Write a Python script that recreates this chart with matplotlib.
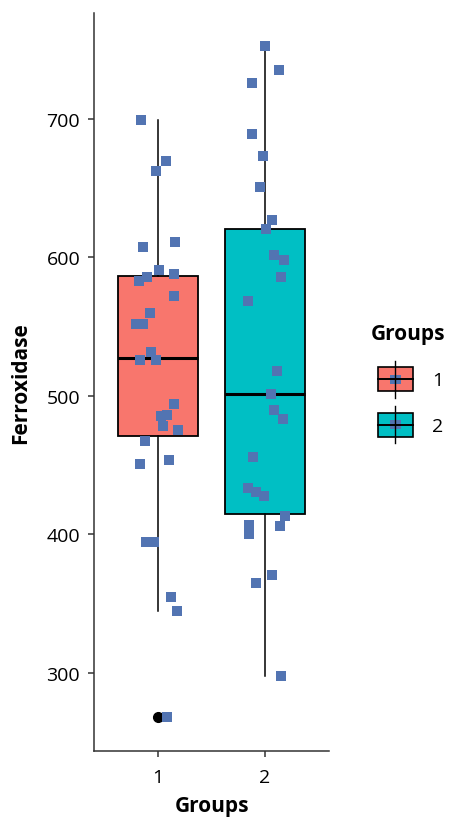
import numpy as np
import matplotlib.pyplot as plt
from matplotlib.patches import Rectangle

plt.rcParams['font.family'] = ['Open Sans', 'DejaVu Sans']

groups = ['1', '2']
fill_colors = ['#F8766D', '#00BFC4']
point_color = '#5274B2'

# boxplot summaries per group
box_q1 = [471.0, 415.0]
box_med = [527.0, 501.0]
box_q3 = [586.5, 620.5]
whisk_lo = [344.6, 297.7]
whisk_hi = [699.3, 752.0]
outliers = [[268.0], []]

# jittered observations (value, horizontal offset)
g1_val = [699.3, 669.7, 662.5, 610.6, 607.7, 591.0, 588.0, 586.0, 583.0, 571.7,
          560.0, 552.0, 552.0, 531.5, 525.5, 525.8, 494.1, 485.6, 486.4, 478.0,
          475.1, 467.4, 450.6, 453.6, 394.3, 394.3, 354.6, 344.6, 268.0]
g1_dx = [-0.16, 0.07, -0.02, 0.16, -0.14, 0.01, 0.15, -0.10, -0.18, 0.15,
         -0.08, -0.21, -0.14, -0.07, -0.17, -0.02, 0.15, 0.03, 0.08, 0.05,
         0.19, -0.12, -0.17, 0.10, -0.11, -0.04, 0.12, 0.18, 0.08]
g2_val = [752.0, 734.8, 725.5, 688.7, 672.8, 650.5, 627.0, 620.0, 601.3, 597.8,
          586.0, 568.3, 517.6, 501.0, 490.0, 483.0, 455.8, 433.3, 430.6, 427.7,
          413.4, 406.0, 406.5, 400.0, 370.5, 365.0, 297.7]
g2_dx = [0.00, 0.13, -0.12, -0.12, -0.02, -0.05, 0.07, 0.01, 0.09, 0.18,
         0.15, -0.16, 0.11, 0.06, 0.09, 0.17, -0.11, -0.16, -0.08, -0.01,
         0.19, 0.14, -0.15, -0.15, 0.07, -0.08, 0.15]

fig = plt.figure(figsize=(4.5, 8.2), dpi=100)
ax = fig.add_axes([0.209, 0.083, 0.522, 0.900])

stats = []
for i in range(2):
    stats.append(dict(med=box_med[i], q1=box_q1[i], q3=box_q3[i],
                      whislo=whisk_lo[i], whishi=whisk_hi[i], fliers=outliers[i]))

bp = ax.bxp(stats, positions=[1, 2], widths=0.75, patch_artist=True, showcaps=False,
            boxprops=dict(edgecolor='black', linewidth=1.3),
            whiskerprops=dict(color='black', linewidth=1.1),
            medianprops=dict(color='black', linewidth=2.2),
            flierprops=dict(marker='o', markerfacecolor='black', markeredgecolor='black',
                            markersize=7))
for patch, c in zip(bp['boxes'], fill_colors):
    patch.set_facecolor(c)

ax.scatter(1 + np.array(g1_dx), g1_val, marker='s', s=52, color=point_color,
           linewidths=0, zorder=5)
ax.scatter(2 + np.array(g2_dx), g2_val, marker='s', s=52, color=point_color,
           linewidths=0, zorder=5)

ax.set_xlim(0.4, 2.6)
ax.set_ylim(243.8, 776.2)
ax.set_xticks([1, 2])
ax.set_xticklabels(groups)
ax.set_yticks([300, 400, 500, 600, 700])
for s in ['top', 'right']:
    ax.spines[s].set_visible(False)
for s in ['left', 'bottom']:
    ax.spines[s].set_color('#333333')
    ax.spines[s].set_linewidth(1.1)
ax.tick_params(colors='#333333', labelcolor='black', labelsize=14, length=4, width=1.1)
ax.tick_params(axis='y', pad=6)
ax.tick_params(axis='x', pad=8)
ax.set_xlabel('Groups', fontsize=15, fontweight='bold', labelpad=7)
ax.set_ylabel('Ferroxidase', fontsize=15, fontweight='bold', labelpad=11)

# legend drawn in pixel space
lg = fig.add_axes([0, 0, 1, 1], zorder=10)
lg.set_xlim(0, 450)
lg.set_ylim(820, 0)
lg.axis('off')
lg.patch.set_alpha(0)
lg.text(371, 335, 'Groups', fontsize=15, fontweight='bold', va='center', ha='left')
for k, (lab, c) in enumerate(zip(groups, fill_colors)):
    yc = 380.3 + 45.4 * k
    lg.plot([395, 395], [yc - 18.6, yc + 18.6], color='black', lw=1.0)
    lg.add_patch(Rectangle((377.7, yc - 12), 35, 24, facecolor=c, edgecolor='black', lw=1.2))
    lg.plot([377.7, 412.7], [yc, yc], color='black', lw=1.4)
    lg.add_patch(Rectangle((389.5, yc - 4.5), 11, 9, facecolor=point_color, edgecolor='none'))
    lg.text(432, yc + 1, lab, fontsize=14, va='center', ha='left')

fig.savefig('out.png', dpi=100)
